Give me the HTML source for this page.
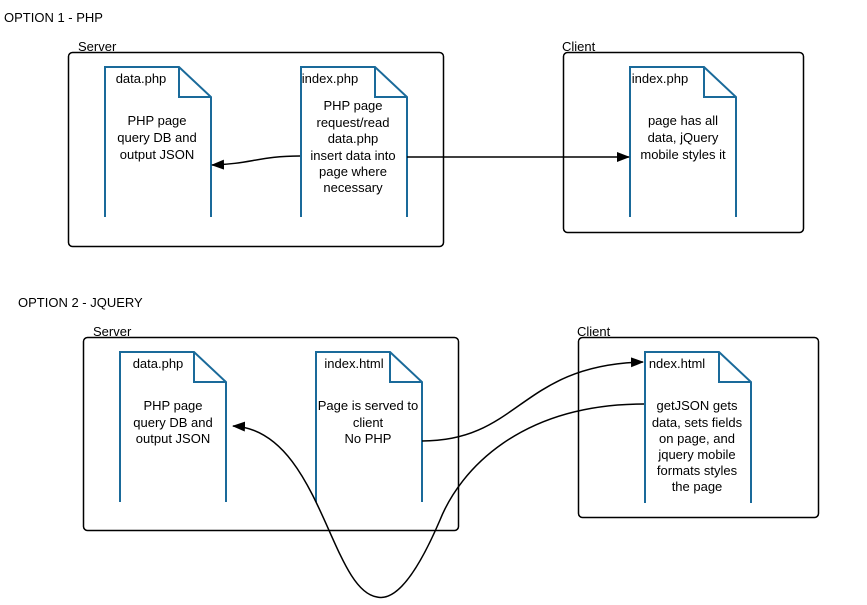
<!DOCTYPE html>
<html><head><style>body{margin:0;background:#fff}svg{display:block}text{font-family:"Liberation Sans",sans-serif;font-size:13px;fill:#000}</style></head><body>
<svg width="867" height="605" viewBox="0 0 867 605">
<defs><marker id="a" markerWidth="13" markerHeight="10" refX="12" refY="5" orient="auto" markerUnits="userSpaceOnUse"><path d="M0,0 L13,5 L0,10 z" fill="#000"/></marker></defs>
<text x="4" y="22">OPTION 1 - PHP</text>
<text x="18" y="307">OPTION 2 - JQUERY</text>
<g fill="none" stroke="#000" stroke-width="1.5">
<rect x="68.5" y="52.5" width="375" height="194" rx="4"/>
<rect x="563.5" y="52.5" width="240" height="180" rx="4"/>
<rect x="83.5" y="337.5" width="375" height="193" rx="4"/>
<rect x="578.5" y="337.5" width="240" height="180" rx="4"/>
</g>
<text x="78" y="51">Server</text><text x="562" y="51">Client</text>
<text x="93" y="336">Server</text><text x="577" y="336">Client</text>
<g fill="none" stroke="#1a6a9a" stroke-width="2">
<path d="M105,217 V67 H179 L211,97 V217 M179,67 V97 H211"/>
<path d="M301,217 V67 H375 L407,97 V217 M375,67 V97 H407"/>
<path d="M630,217 V67 H704 L736,97 V217 M704,67 V97 H736"/>
<path d="M120,502 V352 H194 L226,382 V502 M194,352 V382 H226"/>
<path d="M316,502 V352 H390 L422,382 V502 M390,352 V382 H422"/>
<path d="M645,503 V352 H719 L751,382 V503 M719,352 V382 H751"/>
</g>
<g text-anchor="middle">
<text x="141" y="83">data.php</text>
<text x="157" y="125">PHP page</text><text x="157" y="142">query DB and</text><text x="157" y="159">output JSON</text>
<text x="330" y="83">index.php</text>
<text x="353" y="110">PHP page</text><text x="353" y="127">request/read</text><text x="353" y="143">data.php</text><text x="353" y="160">insert data into</text><text x="353" y="176">page where</text><text x="353" y="192">necessary</text>
<text x="660" y="83">index.php</text>
<text x="683" y="125">page has all</text><text x="683" y="142">data, jQuery</text><text x="683" y="159">mobile styles it</text>
<text x="158" y="368">data.php</text>
<text x="173" y="410">PHP page</text><text x="173" y="427">query DB and</text><text x="173" y="443">output JSON</text>
<text x="354" y="368">index.html</text>
<text x="368" y="410">Page is served to</text><text x="368" y="427">client</text><text x="368" y="443">No PHP</text>
<text x="677" y="368">ndex.html</text>
<text x="697" y="410">getJSON gets</text><text x="697" y="427">data, sets fields</text><text x="697" y="443">on page, and</text><text x="697" y="459">jquery mobile</text><text x="697" y="475">formats styles</text><text x="697" y="491">the page</text>
</g>
<g fill="none" stroke="#000" stroke-width="1.5">
<path d="M300,156 C260,156 250,164 212,165" marker-end="url(#a)"/>
<path d="M407,157 H629" marker-end="url(#a)"/>
<path d="M422,441 C520,441 520,365 643,362" marker-end="url(#a)"/>
<path d="M644,404 C520,404 460,470 440,520 C410,590 390,600 377,597 C330,590 320,430 233,426" marker-end="url(#a)"/>
</g>
</svg>
</body></html>
